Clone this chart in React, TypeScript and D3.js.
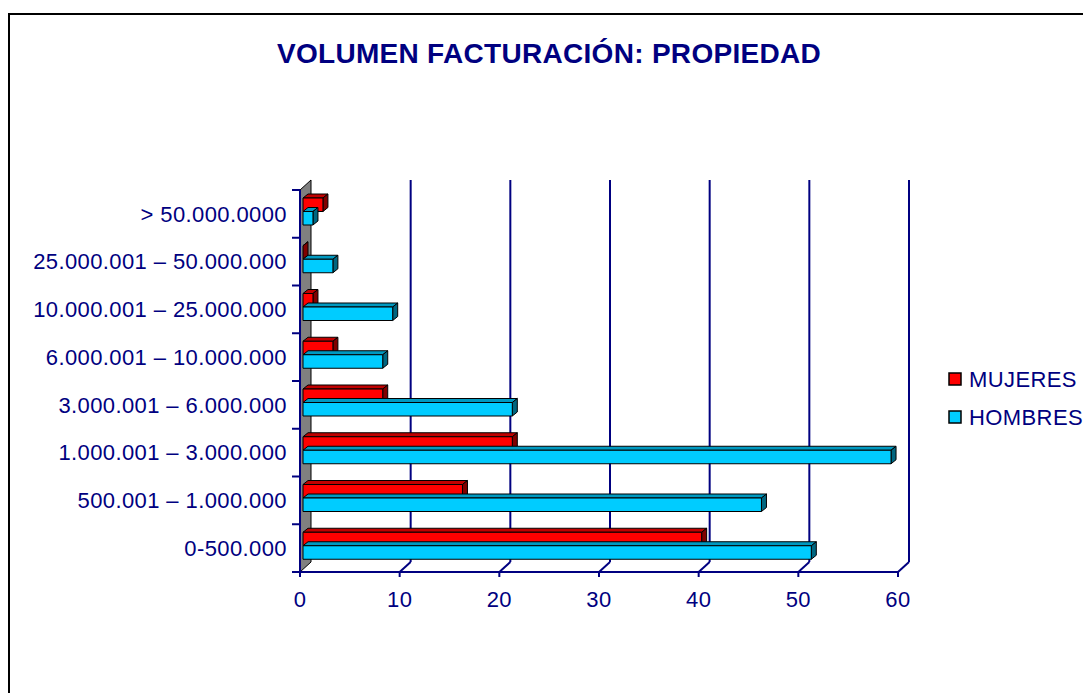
import React from 'react';
import * as d3 from 'd3';

const categories = [
  '0-500.000',
  '500.001 – 1.000.000',
  '1.000.001 – 3.000.000',
  '3.000.001 – 6.000.000',
  '6.000.001 – 10.000.000',
  '10.000.001 – 25.000.000',
  '25.000.001 – 50.000.000',
  '> 50.000.0000',
];
const mujeres = [40, 16, 21, 8, 3, 1, 0, 2];
const hombres = [51, 46, 59, 21, 8, 9, 3, 1];
const seriesNames = ['MUJERES', 'HOMBRES'];
const xTicks = [0, 10, 20, 30, 40, 50, 60];

const NAVY = '#000080';
const FONT = 'Arial, "Liberation Sans", sans-serif';

// colores de las caras: frente, arriba, lado
const faces: Record<string, [string, string, string]> = {
  MUJERES: ['#FF0000', '#C00000', '#800000'],
  HOMBRES: ['#00CCFF', '#0099C0', '#006680'],
};

const App = () => {
  const x = d3.scaleLinear().domain([0, 60]).range([300, 898]);
  const y = d3.scaleBand().domain([...categories].reverse()).range([190, 572]).padding(0);
  const inner = d3.scaleBand().domain(seriesNames).range([8, 35]).padding(0);

  // profundidad del fondo y de las barras
  const dx = 11, dy = -10;
  const bx = 5, by = -4;
  const shift = 3;

  const bars: JSX.Element[] = [];
  categories.forEach((c, i) => {
    seriesNames.forEach((s) => {
      const v = s === 'MUJERES' ? mujeres[i] : hombres[i];
      const x0 = x(0) + shift;
      const x1 = x(v) + shift;
      const y0 = (y(c) as number) + (inner(s) as number);
      const h = inner.bandwidth();
      const [front, top, side] = faces[s];
      bars.push(
        <g key={c + s} stroke="#000" strokeWidth={1} strokeLinejoin="round">
          <polygon points={`${x0},${y0} ${x0 + bx},${y0 + by} ${x1 + bx},${y0 + by} ${x1},${y0}`} fill={top} />
          <polygon points={`${x1},${y0} ${x1 + bx},${y0 + by} ${x1 + bx},${y0 + h + by} ${x1},${y0 + h}`} fill={side} />
          {v > 0 && <rect x={x0} y={y0} width={x1 - x0} height={h} fill={front} />}
        </g>
      );
    });
  });

  const yTop = 190, yBot = 572;
  const label = { fontFamily: FONT, fontSize: 22, letterSpacing: 0.4, fill: NAVY };

  return (
    <svg width={1083} height={693} style={{ position: 'absolute', left: 0, top: 0, background: '#fff' }}>
      <rect x={9} y={14} width={1100} height={700} fill="#fff" stroke="#000" strokeWidth={2} />

      <text x={549} y={63} textAnchor="middle" fontFamily={FONT} fontWeight="bold" fontSize={28}
        letterSpacing={0.3} fill={NAVY}>
        VOLUMEN FACTURACIÓN: PROPIEDAD
      </text>

      {/* pared izquierda */}
      <polygon
        points={`${x(0)},${yBot} ${x(0)},${yTop} ${x(0) + dx},${yTop + dy} ${x(0) + dx},${yBot + dy}`}
        fill="#808080" stroke="#000" strokeWidth={1}
      />

      {/* rejilla del fondo */}
      {xTicks.filter((t) => t > 0).map((t) => (
        <g key={t} stroke={NAVY} strokeWidth={2} fill="none">
          <line x1={x(t) + dx} y1={yTop + dy} x2={x(t) + dx} y2={yBot + dy} />
          <line x1={x(t)} y1={yBot} x2={x(t) + dx} y2={yBot + dy} />
        </g>
      ))}

      {/* ejes */}
      <line x1={x(0)} y1={yBot} x2={x(60)} y2={yBot} stroke={NAVY} strokeWidth={2} />
      <line x1={x(0)} y1={yTop} x2={x(0)} y2={yBot} stroke={NAVY} strokeWidth={2} />
      {xTicks.map((t) => (
        <g key={t}>
          <line x1={x(t)} y1={yBot} x2={x(t)} y2={yBot + 5} stroke={NAVY} strokeWidth={2} />
          <text x={x(t)} y={607} textAnchor="middle" {...label}>{t}</text>
        </g>
      ))}
      {[...y.domain().map((c) => y(c) as number), yBot].map((v, i) => (
        <line key={i} x1={x(0) - 8} y1={v} x2={x(0)} y2={v} stroke={NAVY} strokeWidth={2} />
      ))}
      {categories.map((c) => (
        <text key={c} x={287} y={(y(c) as number) + y.bandwidth() / 2} dy="0.35em" textAnchor="end"
          {...label}>{c}</text>
      ))}

      {bars}

      {/* leyenda */}
      {seriesNames.map((s, i) => (
        <g key={s}>
          <rect x={949} y={373 + i * 38} width={12} height={12} fill={faces[s][0]} stroke="#000" strokeWidth={1.5} />
          <text x={969} y={387 + i * 38} {...label}>{s}</text>
        </g>
      ))}
    </svg>
  );
};

export default App;
